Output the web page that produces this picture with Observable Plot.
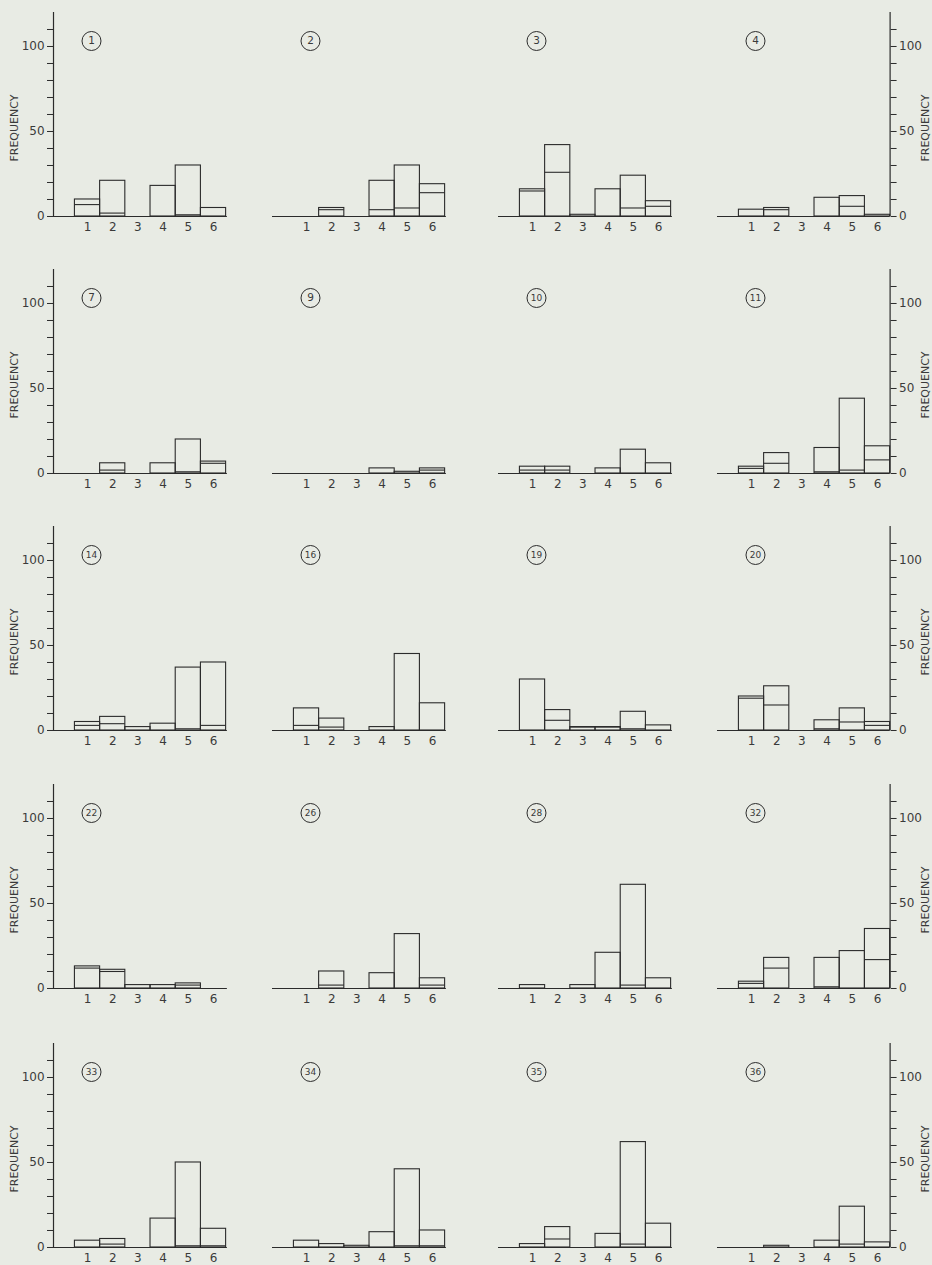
<!DOCTYPE html>
<html><head><meta charset="utf-8">
<script src="https://cdn.jsdelivr.net/npm/d3@7"></script>
<script src="https://cdn.jsdelivr.net/npm/@observablehq/plot@0.6"></script>
<style>
html,body{margin:0;padding:0;background:#e8ebe4;}
#fig{position:relative;width:932px;height:1265px;overflow:hidden;background:#e8ebe4;}
#fig svg{position:absolute;overflow:visible;}
</style></head><body><div id="fig"></div>
<script>
// ---------- data ----------
const panelIds = [1, 2, 3, 4, 7, 9, 10, 11, 14, 16, 19, 20, 22, 26, 28, 32, 33, 34, 35, 36];
const classes = [1, 2, 3, 4, 5, 6];
// outer bar (total frequency) per class 1..6
const totals = [
  [10, 21, 0, 18, 30, 5],
  [0, 5, 0, 21, 30, 19],
  [16, 42, 1, 16, 24, 9],
  [4, 5, 0, 11, 12, 1],
  [0, 6, 0, 6, 20, 7],
  [0, 0, 0, 3, 1, 3],
  [4, 4, 0, 3, 14, 6],
  [4, 12, 0, 15, 44, 16],
  [5, 8, 2, 4, 37, 40],
  [13, 7, 0, 2, 45, 16],
  [30, 12, 2, 2, 11, 3],
  [20, 26, 0, 6, 13, 5],
  [13, 11, 2, 2, 3, 0],
  [0, 10, 0, 9, 32, 6],
  [2, 0, 2, 21, 61, 6],
  [4, 18, 0, 18, 22, 35],
  [4, 5, 0, 17, 50, 11],
  [4, 2, 1, 9, 46, 10],
  [2, 12, 0, 8, 62, 14],
  [0, 1, 0, 4, 24, 3]
];
// inner line (sub-portion) per class 1..6, null = none
const subsets = [
  [7, 2, null, null, 1, null],
  [null, 4, null, 4, 5, 14],
  [15, 26, null, null, 5, 6],
  [null, 4, null, null, 6, null],
  [null, 2, null, null, 1, 6],
  [null, null, null, null, null, 2],
  [2, 2, null, null, null, null],
  [3, 6, null, 1, 2, 8],
  [3, 4, null, null, 1, 3],
  [3, 2, null, null, null, null],
  [null, 6, 2, 2, 1, null],
  [19, 15, null, 1, 5, 3],
  [12, 10, null, null, 2, null],
  [null, 2, null, null, null, 2],
  [null, null, null, null, 2, null],
  [3, 12, null, 1, null, 17],
  [null, 2, null, null, 1, 1],
  [null, null, null, null, 1, 1],
  [null, 5, null, null, 2, null],
  [null, null, null, null, 2, null]
];
const yTicks = d3.range(0, 111, 10);
const yLabels = [0, 50, 100];
const yTitle = "FREQUENCY";

// ---------- layout ----------
const ink = "#2b2b2b";
const textInk = "#3a3a3a";
const font = "'DejaVu Sans', sans-serif";
const colFrameLeft = [53, 272, 498, 717];
const rowZero = [216, 473, 730, 988, 1247];
const innerH = 204;
const unitW = 25.2;
const xStart = -0.35;
const xEndMid = 6.55, xEndRight = 6.5;
const yTitleAt = 52;
const mL = 60, mR = 50, mT = 12, mB = 28;

const fig = document.getElementById("fig");

panelIds.forEach((id, i) => {
  const col = i % 4, row = Math.floor(i / 4);
  const xEnd = col === 3 ? xEndRight : xEndMid;
  const innerW = (xEnd - xStart) * unitW;
  const rows = classes.map((c, j) => ({c, total: totals[i][j], sub: subsets[i][j]}));

  const marks = [
    Plot.ruleY([0], {stroke: ink, strokeWidth: 1.2}),
    Plot.rect(rows.filter(d => d.total > 0), {
      x1: d => d.c - 0.5, x2: d => d.c + 0.5, y1: 0, y2: "total",
      fill: "none", stroke: ink, strokeWidth: 1.1
    }),
    Plot.ruleY(rows.filter(d => d.sub != null), {
      y: "sub", x1: d => d.c - 0.5, x2: d => d.c + 0.5, stroke: ink, strokeWidth: 1.1
    }),
    Plot.axisX({ticks: classes, tickFormat: d3.format("d"), tickSize: 0, tickPadding: 6,
      fontSize: 12, label: null, fill: textInk}),
    Plot.dot([id], {frameAnchor: "top-left", dx: 38, dy: 28.5, r: 9.5, stroke: ink, strokeWidth: 1, fill: "none"}),
    Plot.text([id], {frameAnchor: "top-left", dx: 38, dy: 28.5, text: d => String(d),
      fontSize: id >= 10 ? 9 : 10.5, letterSpacing: id >= 10 ? "-0.4px" : "0px",
      fill: textInk, textAnchor: "middle", lineAnchor: "middle"})
  ];
  if (col === 0) {
    marks.push(
      Plot.ruleX([xStart], {stroke: ink, strokeWidth: 1.2}),
      Plot.axisY({anchor: "left", ticks: yTicks, tickSize: 6, tickPadding: 3,
        tickFormat: d => yLabels.includes(d) ? String(d) : "", fontSize: 12, label: null, stroke: ink, fill: textInk}),
      Plot.text([yTitle], {frameAnchor: "left", y: () => yTitleAt, dx: -39, rotate: -90,
        fontSize: 11, fill: textInk, textAnchor: "middle"})
    );
  } else if (col === 3) {
    marks.push(
      Plot.ruleX([xEnd], {stroke: ink, strokeWidth: 1.2}),
      Plot.axisY({anchor: "right", ticks: yTicks, tickSize: 6, tickPadding: 3,
        tickFormat: d => yLabels.includes(d) ? String(d) : "", fontSize: 12, label: null, stroke: ink, fill: textInk}),
      Plot.text([yTitle], {frameAnchor: "right", y: () => yTitleAt, dx: 35, rotate: -90,
        fontSize: 11, fill: textInk, textAnchor: "middle"})
    );
  }

  const svg = Plot.plot({
    width: mL + innerW + mR,
    height: mT + innerH + mB,
    marginLeft: mL, marginRight: mR, marginTop: mT, marginBottom: mB,
    style: {background: "transparent", fontFamily: font, color: textInk, overflow: "visible"},
    x: {domain: [xStart, xEnd], axis: null},
    y: {domain: [0, 120], axis: null},
    marks
  });
  svg.style.left = (colFrameLeft[col] - mL) + "px";
  svg.style.top = (rowZero[row] - innerH - mT) + "px";
  fig.appendChild(svg);
});
</script></body></html>
